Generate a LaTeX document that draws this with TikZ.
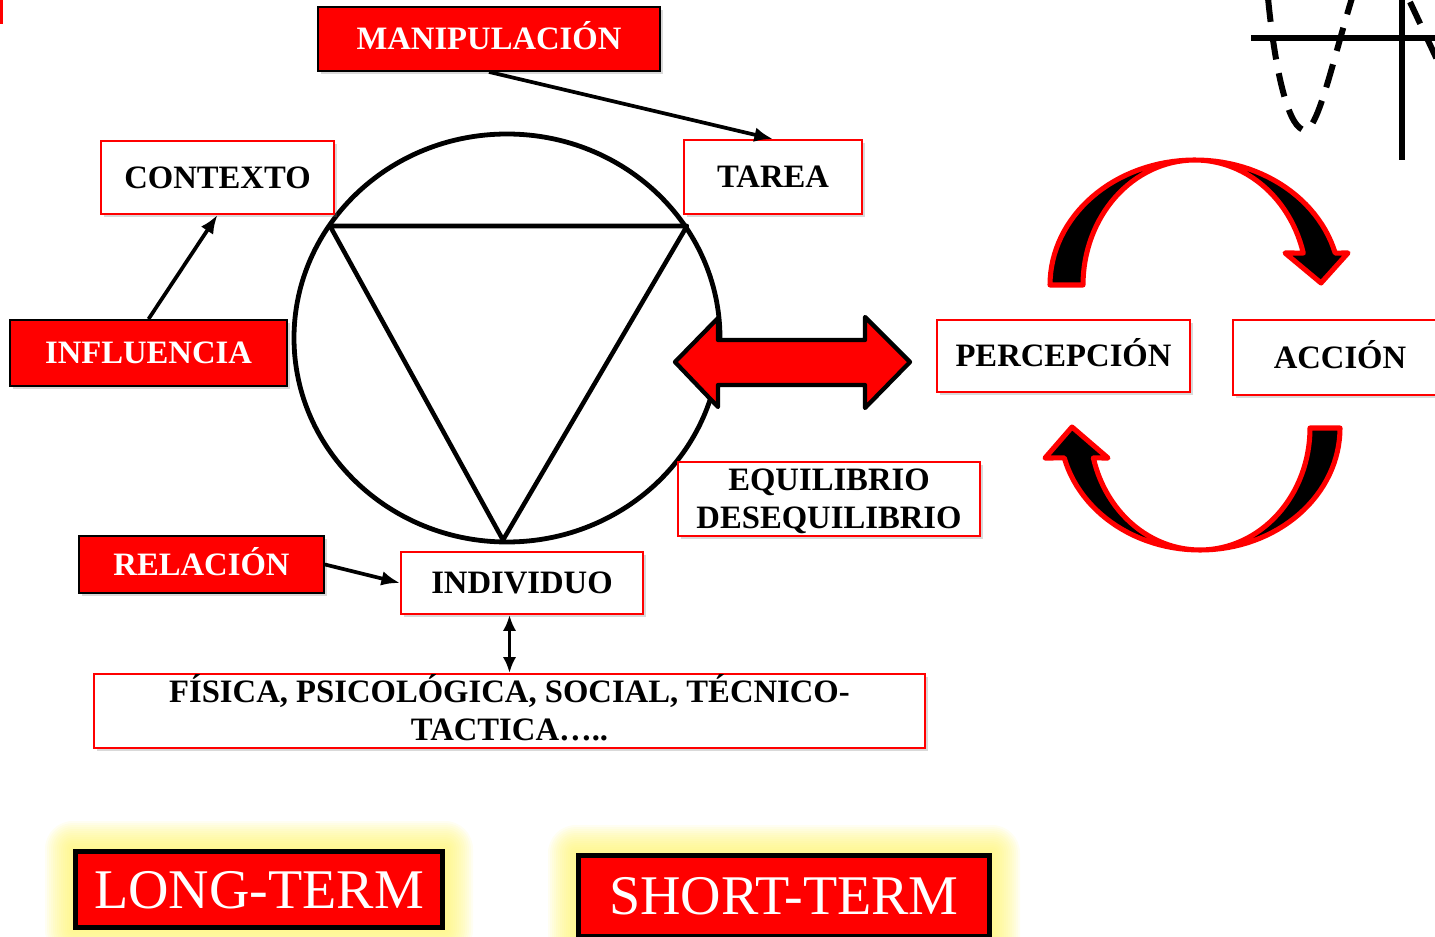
\documentclass[tikz,border=0pt]{standalone}
\usepackage{fontspec}
\setmainfont{Liberation Serif}
\usetikzlibrary{shadows,arrows.meta,calc}
\definecolor{pptred}{RGB}{255,0,0}
\definecolor{glowy}{RGB}{255,245,110}
\begin{document}
\begin{tikzpicture}[x=0.75pt,y=-0.75pt,
  sz/.style 2 args={minimum width=#1*0.75pt, minimum height=#2*0.75pt},
  lbl/.style={font=\fontsize{24.5}{28.5}\selectfont\bfseries, inner sep=0pt, text height=16pt, text depth=0pt, align=center},
  twoline/.style={text height=44.5pt, text depth=0pt},
  shad/.style={drop shadow={shadow xshift=2pt, shadow yshift=-2.5pt, opacity=0.3}},
  redbox/.style={lbl, fill=pptred, draw=black, line width=1.4pt, text=white, shad},
  whitebox/.style={lbl, fill=white, draw=pptred, line width=1.4pt, text=black, shad},
  termbox/.style={fill=pptred, draw=black, line width=3.75pt, text=white, font=\fontsize{42}{48}\selectfont, inner sep=0pt, text height=28pt, text depth=0pt},
  conn/.style={line width=2.8pt, -{Latex[length=14pt,width=11pt]}},
  conn2/.style={line width=2.8pt, {Latex[length=12pt,width=10pt]}-{Latex[length=12pt,width=10pt]}},
  curvarrow/.style={draw=pptred, fill=black, line width=3.8pt, line join=round},
  graphline/.style={line width=4.5pt},
  dashcurve/.style={line width=4.5pt, dash pattern=on 18pt off 10.5pt}
]
\clip (0,0) rectangle (1435,937);
\useasboundingbox (0,0) rectangle (1435,937);

% top-left mark
\fill[pptred] (0,0) rectangle (2.5,24);

% glows
\foreach \d in {28,26,...,2}{
  \fill[glowy, opacity=0.09, rounded corners=\d*0.75pt] (73-\d,849-\d) rectangle (445+\d,930+\d);
  \fill[glowy, opacity=0.09, rounded corners=\d*0.75pt] (576-\d,853-\d) rectangle (992+\d,939+\d);
}

% circle and triangle
\draw[line width=3.6pt] (507,338) ellipse [x radius=159.75pt, y radius=153pt];
\draw[line width=3.4pt, line join=round] (330,226) -- (687,226) -- (503,540) -- cycle;

% red double arrow
\draw[line width=3.2pt, fill=pptred, line join=round] (675,362) -- (718,318) -- (718,340) -- (865,340) -- (865,317) -- (910,362) -- (865,408) -- (865,385) -- (718,385) -- (718,407) -- cycle;

% curved arrows
\draw[curvarrow] plot[domain=180:14.8, samples=60] ({1195+145*cos(\x)},{285-125*sin(\x)}) -- (1348,253) -- (1321,283) -- (1285,253) -- plot[domain=14.8:180, samples=60] ({1195+112*cos(\x)},{285-125*sin(\x)}) -- cycle;
\draw[curvarrow] plot[domain=0:165.8, samples=60] ({1200+140*cos(\x)},{428+122*sin(\x)}) -- (1045,458) -- (1072,427) -- (1108,458) -- plot[domain=165.8:0, samples=60] ({1200+110*cos(\x)},{428+122*sin(\x)}) -- cycle;

% graph top-right
\draw[graphline] (1251,38) -- (1440,38);
\draw[graphline] (1402,-5) -- (1402,160);
\draw[dashcurve] (1268,-2) .. controls (1276,80) and (1290,130) .. (1305,130) .. controls (1318,130) and (1333,60) .. (1352,-2);
\draw[dashcurve] (1410,2) -- (1440,66);

% nodes
\node[redbox, sz={342}{64}] (manip) at (489,39) {MANIPULACIÓN};
\node[whitebox, sz={233}{73}] (ctx) at (217.5,177.5) {CONTEXTO};
\node[whitebox, sz={178}{74}] (tarea) at (773,177) {TAREA};
\node[redbox, sz={277}{66}] (infl) at (148.5,353) {INFLUENCIA};
\node[redbox, sz={245}{57}] (rel) at (201.5,564.5) {RELACIÓN};
\node[whitebox, sz={242}{62}] (indiv) at (522,583) {INDIVIDUO};
\node[whitebox, twoline, sz={831}{74}] (fis) at (509.5,711) {FÍSICA, PSICOLÓGICA, SOCIAL, TÉCNICO-\\TACTICA…..};
\node[whitebox, twoline, sz={302}{74}] (equi) at (829,499) {EQUILIBRIO\\DESEQUILIBRIO};
\node[whitebox, sz={253}{72}] (perc) at (1063.5,356) {PERCEPCIÓN};
\node[whitebox, sz={214}{75}] (acc) at (1340,357.5) {ACCIÓN};
\node[termbox, sz={367}{76}] (long) at (259,889.5) {LONG-TERM};
\node[termbox, sz={411}{81}] (short) at (784,896) {SHORT-TERM};

% connectors
\draw[conn] (manip.south) -- (tarea.north);
\draw[conn] (infl.north) -- (ctx.south);
\draw[conn] (rel.east) -- (indiv.west);
\draw[conn2] (fis.north |- indiv.south) -- (fis.north);
\end{tikzpicture}
\end{document}
